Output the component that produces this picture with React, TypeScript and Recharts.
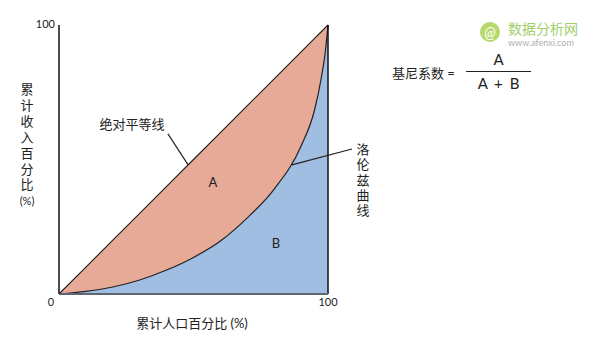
import React from 'react';
import { ComposedChart, XAxis, YAxis, Area, ReferenceLine } from 'recharts';

// cumulative population share (%)
const popShare = [0, 10, 20, 30, 40, 50, 60, 70, 80, 90, 95, 97.5, 99, 100];
// line of perfect equality
const equalityShare = [0, 10, 20, 30, 40, 50, 60, 70, 80, 90, 95, 97.5, 99, 100];
// Lorenz curve, cumulative income share (%)
const lorenzShare = [0, 1.0, 2.6, 5.2, 8.9, 13.6, 19.7, 28.3, 39.0, 55.0, 68.4, 80.3, 90.0, 100];

const xTicks = [0, 100];
const yTicks = [100];
const yLabelChars = ['累', '计', '收', '入', '百', '分', '比', '(%)'];
const lorenzLabelChars = ['洛', '伦', '兹', '曲', '线'];

const chartData = popShare.map((p, i) => ({
  pop: p,
  equal: equalityShare[i],
  lorenz: lorenzShare[i],
}));

const FONT = "Lato, 'Noto Sans CJK SC', sans-serif";
const TEXT = '#222';

const XTick = (props: any) => {
  const { x, y, payload } = props;
  const dx = payload.value === 0 ? -8 : 0;
  return (
    <text x={x + dx} y={y} dy={12} textAnchor="middle" fontSize={11} fill={TEXT} fontFamily={FONT}>
      {payload.value}
    </text>
  );
};

const YTick = (props: any) => {
  const { x, y, payload } = props;
  return (
    <text x={x} y={y} dy={3} textAnchor="end" fontSize={11} fill={TEXT} fontFamily={FONT}>
      {payload.value}
    </text>
  );
};

const App: React.FC = () => {
  return (
    <div style={{ position: 'absolute', left: 0, top: 0, width: 600, height: 342, background: '#fff', fontFamily: FONT, color: TEXT }}>
      <ComposedChart width={600} height={342} data={chartData} margin={{ top: 25, right: 272, bottom: 30, left: 30 }}>
        <XAxis
          dataKey="pop"
          type="number"
          domain={[0, 100]}
          ticks={xTicks}
          height={18}
          tickSize={0}
          tickMargin={0}
          tick={<XTick />}
          axisLine={{ stroke: '#5f6670', strokeWidth: 2 }}
        />
        <YAxis
          type="number"
          domain={[0, 100]}
          ticks={yTicks}
          width={29}
          tickSize={0}
          tickMargin={4}
          tick={<YTick />}
          axisLine={{ stroke: '#111', strokeWidth: 1.5 }}
        />
        {/* equality area (A + B) */}
        <Area dataKey="equal" type="linear" fill="#E6AA96" fillOpacity={1} stroke="#222" strokeWidth={1.2} isAnimationActive={false} />
        {/* below the Lorenz curve (B) */}
        <Area dataKey="lorenz" type="monotone" fill="#A0BEE2" fillOpacity={1} stroke="#222" strokeWidth={1.2} isAnimationActive={false} />
        <ReferenceLine x={100} stroke="#111" strokeWidth={1.5} />
        {/* leader lines */}
        <ReferenceLine segment={[{ x: 40.5, y: 59.5 }, { x: 48, y: 48 }]} stroke="#222" strokeWidth={1.2} ifOverflow="visible" />
        <ReferenceLine segment={[{ x: 86.6, y: 48 }, { x: 108.9, y: 53.9 }]} stroke="#222" strokeWidth={1.2} ifOverflow="visible" />
      </ComposedChart>

      {/* y axis title, stacked vertically */}
      <div style={{ position: 'absolute', left: 17, top: 82, width: 20, textAlign: 'center', fontSize: 13, lineHeight: '15.9px' }}>
        {yLabelChars.map((c, i) => (
          <div key={i} style={{ fontSize: c.length > 1 ? 11 : 13 }}>{c}</div>
        ))}
      </div>

      {/* x axis title */}
      <div style={{ position: 'absolute', left: 92, top: 313, width: 200, textAlign: 'center', fontSize: 13 }}>
        累计人口百分比 (%)
      </div>

      <div style={{ position: 'absolute', left: 92, top: 114, width: 80, textAlign: 'center', fontSize: 13 }}>绝对平等线</div>
      <div style={{ position: 'absolute', left: 203, top: 174, width: 20, textAlign: 'center', fontSize: 13 }}>A</div>
      <div style={{ position: 'absolute', left: 266, top: 235, width: 20, textAlign: 'center', fontSize: 13 }}>B</div>

      <div style={{ position: 'absolute', left: 353, top: 142, width: 20, textAlign: 'center', fontSize: 13, lineHeight: '15.3px' }}>
        {lorenzLabelChars.map((c, i) => (
          <div key={i}>{c}</div>
        ))}
      </div>

      {/* Gini formula */}
      <div style={{ position: 'absolute', left: 392, top: 63, fontSize: 13, whiteSpace: 'nowrap' }}>基尼系数 =</div>
      <div style={{ position: 'absolute', left: 466, top: 50, width: 65, textAlign: 'center', fontSize: 15 }}>A</div>
      <div style={{ position: 'absolute', left: 466, top: 71, width: 65, height: 1, background: '#222' }} />
      <div style={{ position: 'absolute', left: 466, top: 74, width: 65, textAlign: 'center', fontSize: 15, whiteSpace: 'nowrap', wordSpacing: 3 }}>A + B</div>

      {/* watermark */}
      <div style={{ position: 'absolute', left: 480, top: 22, width: 20, height: 20, borderRadius: 10, background: '#b5d86b', color: '#fff', fontSize: 15, lineHeight: '20px', textAlign: 'center', fontStyle: 'italic' }}>@</div>
      <div style={{ position: 'absolute', left: 508, top: 20, fontSize: 14, color: '#9fcf6a', whiteSpace: 'nowrap', lineHeight: '18px' }}>数据分析网</div>
      <div style={{ position: 'absolute', left: 508, top: 37, fontSize: 9, color: '#b0b0b0', whiteSpace: 'nowrap', lineHeight: '11px' }}>www.afenxi.com</div>
    </div>
  );
};

export default App;
